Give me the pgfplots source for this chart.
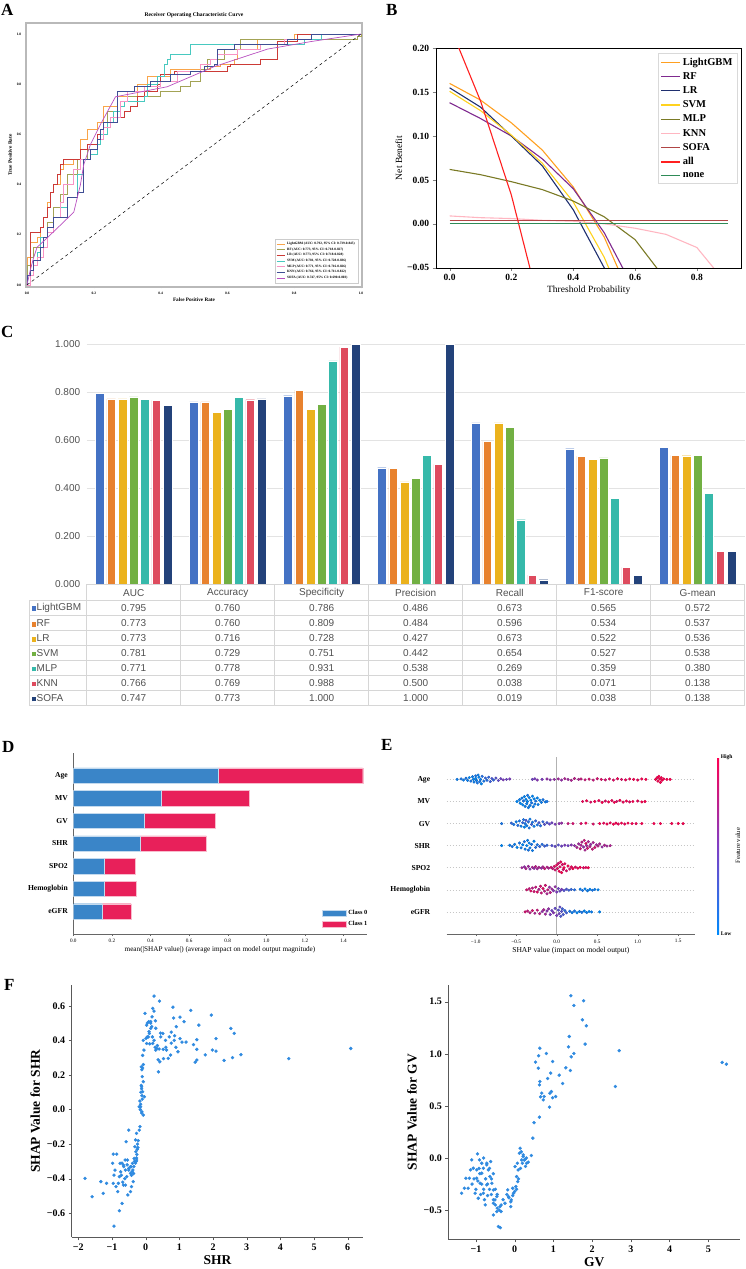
\documentclass[border=0pt]{standalone}
\usepackage{fontspec}
\setmainfont{Liberation Serif}
\newfontfamily\sansf{Liberation Sans}
\usepackage{pgfplots}
\usepackage{pgfplotstable}
\pgfplotsset{compat=1.18}
\newcommand{\fs}[1]{\fontsize{#1}{#1}\selectfont}

% panel A colours
\definecolor{aLGB}{HTML}{F9A54A}
\definecolor{aRF}{HTML}{A3A355}
\definecolor{aLR}{HTML}{CC3A36}
\definecolor{aSVM}{HTML}{48C9C0}
\definecolor{aMLP}{HTML}{F894C4}
\definecolor{aKNN}{HTML}{3F4E94}
\definecolor{aSOFA}{HTML}{B84FC0}
% panel B colours
\definecolor{bLGB}{HTML}{FFA020}
\definecolor{bRF}{HTML}{7F2A8F}
\definecolor{bLR}{HTML}{1F2F6F}
\definecolor{bSVM}{HTML}{FFD21F}
\definecolor{bMLP}{HTML}{7A7A25}
\definecolor{bKNN}{HTML}{FFB6C1}
\definecolor{bSOFA}{HTML}{B04545}
\definecolor{bALL}{HTML}{FF2020}
\definecolor{bNONE}{HTML}{2E8B57}
% panel C colours
\definecolor{cLGB}{HTML}{4472C4}
\definecolor{cRF}{HTML}{E8822E}
\definecolor{cLR}{HTML}{EBB21D}
\definecolor{cSVM}{HTML}{72B043}
\definecolor{cMLP}{HTML}{36B9AA}
\definecolor{cKNN}{HTML}{DE4B5E}
\definecolor{cSOFA}{HTML}{23427A}
\definecolor{tabtext}{HTML}{505050}
\definecolor{tabline}{HTML}{D6D6D6}
% D/E/F
\definecolor{dBlue}{HTML}{3A85C8}
\definecolor{dRed}{HTML}{E8205A}
\definecolor{fBlue}{HTML}{2F8AE0}

\pgfplotstableread{
x LGB RF LR SVM MLP KNN SOFA
0 0.795 0.773 0.773 0.781 0.771 0.766 0.747
1 0.760 0.760 0.716 0.729 0.778 0.769 0.773
2 0.786 0.809 0.728 0.751 0.931 0.988 1.000
3 0.486 0.484 0.427 0.442 0.538 0.500 1.000
4 0.673 0.596 0.673 0.654 0.269 0.038 0.019
5 0.565 0.534 0.522 0.527 0.359 0.071 0.038
6 0.572 0.537 0.536 0.538 0.380 0.138 0.138
}\perfdata

\pgfplotstableread{
y c0 c1
0 0.150 0.150
1 0.162 0.162
2 0.162 0.161
3 0.345 0.345
4 0.367 0.368
5 0.455 0.454
6 0.749 0.750
}\shapbar

\pgfplotstableread[row sep=\\]{
x y c\\
-1.23 6 0.05\\ -1.18 6.02 0.1\\ -1.15 5.97 0.05\\ -1.12 6.05 0.1\\ -1.1 5.95 0.05\\ -1.08 6.08 0.0\\ -1.06 5.92 0.1\\ -1.04 6.12 0.05\\ -1.03 6.0 0.0\\ -1.02 5.88 0.05\\ -1.0 6.16 0.1\\ -1.0 6.05 0.0\\ -0.99 5.95 0.05\\ -0.98 5.84 0.1\\ -0.97 6.2 0.05\\ -0.96 6.1 0.0\\ -0.95 5.9 0.1\\ -0.94 6.0 0.05\\ -0.93 5.8 0.0\\ -0.92 6.14 0.15\\ -0.9 5.92 0.1\\ -0.88 6.06 0.2\\ -0.86 5.96 0.15\\ -0.84 6.1 0.2\\ -0.82 5.9 0.25\\ -0.8 6.04 0.3\\ -0.78 5.97 0.2\\ -0.75 6.06 0.35\\ -0.72 5.95 0.4\\ -0.69 6.03 0.45\\ -0.66 5.98 0.5\\ -0.62 6.0 0.45\\ -0.58 6.02 0.5\\
-0.3 6 0.45\\ -0.27 6.03 0.5\\ -0.24 5.97 0.55\\ -0.18 6.0 0.5\\ -0.12 6.02 0.6\\ -0.08 5.98 0.55\\ -0.03 6.0 0.6\\ 0.02 6.02 0.65\\ 0.06 5.97 0.6\\ 0.1 6.03 0.7\\ 0.14 6 0.65\\ 0.18 5.96 0.7\\ 0.22 6.04 0.75\\ 0.27 6 0.7\\ 0.3 6.02 0.8\\ 0.35 5.98 0.8\\ 0.4 6.01 0.85\\ 0.45 5.97 0.8\\ 0.5 6.03 0.85\\ 0.55 6 0.9\\ 0.6 5.98 0.85\\ 0.65 6.02 0.9\\ 0.7 5.97 0.9\\ 0.75 6.03 0.95\\ 0.8 6 0.9\\ 0.85 5.98 0.95\\ 0.9 6.02 0.95\\ 0.95 6.0 1\\ 1.0 5.97 0.95\\ 1.05 6.02 1\\ 1.1 6 1\\
1.22 6.0 1\\ 1.24 6.08 1\\ 1.25 5.92 1\\ 1.26 6.14 1\\ 1.27 6.02 1\\ 1.28 5.86 1\\ 1.29 6.08 1\\ 1.3 5.96 1\\ 1.32 6.02 1\\ 1.36 6 1\\ 1.4 6 1\\
-0.49 5 0\\ -0.46 5.08 0.05\\ -0.45 4.92 0\\ -0.43 5.15 0.05\\ -0.42 4.85 0\\ -0.41 5.02 0.1\\ -0.4 5.22 0\\ -0.39 4.78 0.05\\ -0.38 5.1 0\\ -0.37 4.9 0.05\\ -0.36 5.28 0.1\\ -0.36 5.0 0\\ -0.35 4.72 0.05\\ -0.34 5.18 0\\ -0.33 4.82 0.05\\ -0.32 5.06 0\\ -0.31 4.94 0.1\\ -0.3 5.24 0\\ -0.29 4.76 0.05\\ -0.28 5.12 0\\ -0.27 4.88 0.05\\ -0.26 5.02 0.1\\ -0.24 5.16 0\\ -0.23 4.86 0.05\\ -0.21 5.06 0\\ -0.19 4.96 0.05\\ -0.17 5.08 0.1\\ -0.14 4.98 0.05\\ -0.12 5.0 0.1\\
0.32 5 0.95\\ 0.37 5.03 1\\ 0.42 4.97 0.9\\ 0.47 5.0 1\\ 0.52 5.04 0.95\\ 0.56 4.96 1\\ 0.6 5.02 0.9\\ 0.64 4.98 1\\ 0.68 5.04 0.95\\ 0.71 4.96 1\\ 0.74 5.0 0.9\\ 0.78 5.05 1\\ 0.82 4.97 0.95\\ 0.86 5.02 1\\ 0.9 4.98 0.9\\ 0.94 5.0 1\\ 1.0 5.02 0.95\\ 1.05 4.98 1\\ 1.09 5 1\\
-0.68 4 0.1\\ -0.56 4.02 0.2\\ -0.53 3.96 0.1\\ -0.5 4.08 0.05\\ -0.48 3.92 0.15\\ -0.46 4.12 0.1\\ -0.44 3.88 0.05\\ -0.42 4.04 0.2\\ -0.41 4.18 0.1\\ -0.4 3.84 0.0\\ -0.39 4.0 0.1\\ -0.38 4.14 0.3\\ -0.37 3.9 0.05\\ -0.35 4.08 0.15\\ -0.34 3.8 0.1\\ -0.33 4.2 0.05\\ -0.31 3.96 0.25\\ -0.3 4.06 0.1\\ -0.28 3.88 0.05\\ -0.26 4.12 0.2\\ -0.24 3.94 0.1\\ -0.22 4.04 0.3\\ -0.2 3.9 0.15\\ -0.17 4.08 0.2\\ -0.15 3.96 0.35\\ -0.12 4.04 0.3\\ -0.09 3.98 0.4\\ -0.06 4.03 0.45\\ -0.02 3.97 0.5\\ 0.03 4.0 0.55\\ 0.06 4.02 0.6\\
0.14 4 0.8\\ 0.2 4 0.85\\ 0.3 4.0 0.9\\ 0.36 4.02 0.95\\ 0.45 3.98 0.9\\ 0.53 4 1\\ 0.58 4.02 0.95\\ 0.62 3.98 1\\ 0.66 4.03 0.95\\ 0.7 3.97 1\\ 0.73 4.02 1\\ 0.76 3.98 0.95\\ 0.8 4.02 1\\ 0.84 3.98 0.95\\ 0.88 4.02 1\\ 0.93 4 1\\ 0.98 4 0.95\\ 1.05 4 1\\ 1.2 4 1\\ 1.28 4 1\\ 1.42 4 1\\ 1.5 4 1\\ 1.56 4 1\\
-0.68 3 0\\ -0.58 3.02 0.05\\ -0.55 2.96 0.1\\ -0.52 3.06 0.05\\ -0.49 2.92 0\\ -0.46 3.12 0.1\\ -0.44 2.9 0.05\\ -0.42 3.04 0\\ -0.4 3.18 0.1\\ -0.39 2.84 0.05\\ -0.37 3.0 0\\ -0.36 3.24 0.05\\ -0.35 2.8 0.1\\ -0.34 3.12 0\\ -0.33 2.9 0.05\\ -0.31 3.06 0.1\\ -0.3 2.78 0.05\\ -0.28 3.2 0.0\\ -0.26 2.92 0.15\\ -0.24 3.04 0.1\\ -0.21 2.96 0.2\\ -0.18 3.06 0.15\\ -0.15 2.98 0.25\\ -0.12 3.02 0.2\\ -0.06 3.0 0.35\\ -0.02 2.97 0.4\\ 0.02 3.03 0.35\\ 0.06 2.98 0.45\\ 0.1 3.02 0.5\\ 0.14 3.0 0.45\\ 0.18 3.03 0.55\\
0.22 3 0.6\\ 0.25 2.92 0.7\\ 0.27 3.08 0.65\\ 0.29 2.86 0.8\\ 0.3 3.02 0.7\\ 0.31 3.16 0.75\\ 0.33 2.94 0.6\\ 0.34 3.24 0.8\\ 0.35 2.8 0.7\\ 0.36 3.1 0.9\\ 0.37 3.0 0.65\\ 0.38 2.88 0.85\\ 0.39 3.18 0.7\\ 0.41 2.96 0.75\\ 0.42 3.06 0.6\\ 0.44 2.84 0.8\\ 0.45 3.14 0.7\\ 0.47 2.92 0.85\\ 0.49 3.04 0.65\\ 0.51 2.98 0.75\\ 0.53 3.08 0.7\\ 0.56 2.94 0.6\\ 0.59 3.02 0.7\\ 0.62 2.98 0.65\\ 0.66 3.0 0.7\\
-0.43 2 0.65\\ -0.4 2.04 0.6\\ -0.38 1.96 0.7\\ -0.35 2.06 0.65\\ -0.33 1.94 0.55\\ -0.3 2.02 0.7\\ -0.28 1.97 0.6\\ -0.26 2.05 0.75\\ -0.24 1.95 0.65\\ -0.22 2.02 0.7\\ -0.19 1.98 0.6\\ -0.17 2.04 0.7\\ -0.15 1.96 0.8\\ -0.12 2.03 0.75\\ -0.1 1.98 0.7\\ -0.07 2.02 0.85\\ -0.05 1.96 0.8\\
-0.03 2.06 0.9\\ -0.02 1.9 0.85\\ 0.0 2.12 0.95\\ 0.01 1.96 0.9\\ 0.02 2.2 0.85\\ 0.03 1.84 1\\ 0.04 2.04 0.9\\ 0.05 2.26 0.95\\ 0.06 1.78 1\\ 0.07 2.14 0.9\\ 0.08 1.92 0.85\\ 0.09 2.0 1\\ 0.1 2.18 0.95\\ 0.12 1.86 0.9\\ 0.14 2.08 1\\ 0.16 1.94 0.85\\ 0.18 2.04 0.95\\ 0.2 1.96 1\\ 0.23 2.03 0.9\\ 0.26 1.98 0.95\\ 0.29 2.02 1\\ 0.33 2.0 0.9\\ 0.36 2.01 0.95\\ 0.39 2 1\\
-0.37 1 0.85\\ -0.34 1.05 0.8\\ -0.32 0.95 0.9\\ -0.3 1.08 0.75\\ -0.28 0.92 0.85\\ -0.26 1.12 0.8\\ -0.24 0.9 0.9\\ -0.22 1.02 0.7\\ -0.2 1.16 0.85\\ -0.19 0.86 0.8\\ -0.17 1.06 0.9\\ -0.15 0.94 0.75\\ -0.14 1.2 0.85\\ -0.12 0.82 0.7\\ -0.11 1.0 0.8\\ -0.09 1.12 0.6\\ -0.08 0.88 0.75\\ -0.06 1.04 0.65\\ -0.04 0.96 0.55\\ -0.02 1.14 0.6\\ 0.0 0.9 0.5\\ 0.02 1.06 0.45\\ 0.04 0.94 0.4\\ 0.06 1.02 0.5\\ 0.09 0.97 0.35\\ 0.12 1.03 0.3\\ 0.15 0.98 0.25\\ 0.18 1.02 0.2\\ 0.22 1.0 0.15\\ 0.29 1.03 0.05\\ 0.32 0.97 0.1\\ 0.35 1.04 0.0\\ 0.38 0.96 0.05\\ 0.41 1.02 0.0\\ 0.44 0.98 0.1\\ 0.47 1.02 0.05\\ 0.51 1 0\\
-0.39 0 0.85\\ -0.36 0.04 0.8\\ -0.33 -0.04 0.75\\ -0.3 0.06 0.85\\ -0.27 -0.06 0.7\\ -0.24 0.08 0.8\\ -0.21 -0.08 0.75\\ -0.18 0.02 0.6\\ -0.16 0.1 0.7\\ -0.14 -0.1 0.65\\ -0.12 0.04 0.55\\ -0.1 0.14 0.6\\ -0.08 -0.12 0.5\\ -0.06 0.06 0.45\\ -0.04 -0.04 0.55\\ -0.02 0.16 0.4\\ 0.0 -0.16 0.5\\ 0.02 0.08 0.35\\ 0.03 -0.08 0.45\\ 0.04 0.22 0.4\\ 0.05 -0.2 0.3\\ 0.06 0.02 0.35\\ 0.07 0.14 0.25\\ 0.08 -0.12 0.3\\ 0.1 0.06 0.2\\ 0.12 -0.04 0.25\\ 0.16 0.03 0.1\\ 0.19 -0.03 0.05\\ 0.22 0.04 0.1\\ 0.25 -0.04 0.0\\ 0.28 0.02 0.05\\ 0.31 -0.02 0.1\\ 0.34 0.04 0.0\\ 0.37 -0.03 0.05\\ 0.4 0.02 0.0\\ 0.43 0 0.05\\ 0.53 0 0\\
}\beeswarm

\pgfplotstableread[row sep=\\]{
x y\\
6.09 0.353\\ 4.25 0.294\\ 2.83 0.317\\ 2.58 0.30\\ 2.33 0.284\\ 2.53 0.469\\ 2.63 0.44\\ 2.09 0.41\\ 2.09 0.338\\ 1.98 0.344\\ 1.95 0.546\\ 1.77 0.316\\ 1.58 0.488\\ 1.52 0.404\\ 1.52 0.348\\ 1.52 0.286\\ 1.47 0.274\\ 1.42 0.375\\ 1.34 0.573\\ 1.14 0.508\\ 1.02 0.534\\ 1.02 0.41\\ 1.08 0.39\\ 0.96 0.334\\ 0.91 0.479\\ 0.86 0.427\\ 0.83 0.529\\ 0.81 0.592\\ 0.76 0.384\\ 0.76 0.448\\ 0.74 0.315\\ 0.67 0.296\\ 0.62 0.344\\ 0.59 0.40\\ 0.53 0.294\\ 0.52 0.348\\ 0.51 0.44\\ 0.44 0.442\\ 0.42 0.276\\ 0.38 0.218\\ 0.37 0.288\\ 0.33 0.353\\ 0.30 0.344\\ 0.25 0.40\\ 0.29 0.513\\ 0.25 0.569\\ 0.41 0.627\\ 0.25 0.656\\ 0.21 0.585\\ 0.19 0.536\\ 0.15 0.508\\ 0.18 0.479\\ 0.11 0.44\\ 0.08 0.42\\ 0.03 0.382\\ 0.01 0.411\\ -0.02 0.556\\ 0.03 0.488\\ 0.09 0.508\\ 0.15 0.469\\ 0.21 0.382\\ -0.07 0.40\\ -0.05 0.344\\ -0.09 0.313\\ -0.13 0.247\\ -0.10 0.19\\ -0.07 0.161\\ -0.12 0.132\\ -0.09 0.103\\ -0.04 0.074\\ -0.17 0.049\\ -0.15 0.016\\ -0.11 -0.013\\ -0.07 -0.032\\ -0.19 0.016\\ -0.17 -0.099\\ -0.19 -0.119\\ -0.27 -0.138\\ -0.30 -0.176\\ -0.32 -0.215\\ -0.29 -0.244\\ -0.34 -0.283\\ -0.27 -0.292\\ -0.39 -0.311\\ -0.43 -0.331\\ -0.45 -0.369\\ -0.50 -0.35\\ -0.54 -0.292\\ -0.50 -0.119\\ -0.58 -0.186\\ -0.61 -0.292\\ -0.66 -0.321\\ -0.74 -0.36\\ -0.76 -0.311\\ -0.78 -0.388\\ -0.81 -0.427\\ -0.88 -0.446\\ -0.91 -0.35\\ -0.94 -0.379\\ -0.96 -0.258\\ -0.86 -0.258\\ -0.98 -0.311\\ -0.96 -0.427\\ -0.83 -0.475\\ -0.78 -0.585\\ -0.70 -0.543\\ -0.60 -0.437\\ -0.53 -0.494\\ -0.45 -0.475\\ -0.42 -0.446\\ -0.37 -0.417\\ -0.56 -0.388\\ -0.66 -0.437\\ -0.94 -0.674\\ -1.16 -0.427\\ -1.33 -0.417\\ -1.26 -0.485\\ -1.59 -0.504\\ -1.80 -0.398\\
-0.22 -0.18\\ -0.24 -0.2\\ -0.25 -0.23\\ -0.26 -0.26\\ -0.27 -0.28\\ -0.23 -0.22\\ -0.28 -0.3\\ -0.3 -0.31\\ -0.33 -0.3\\ -0.35 -0.33\\ -0.38 -0.35\\ -0.4 -0.36\\ -0.42 -0.38\\ -0.36 -0.37\\ -0.45 -0.33\\ -0.5 -0.34\\ -0.55 -0.32\\ -0.6 -0.35\\ -0.65 -0.33\\ -0.7 -0.31\\ -0.72 -0.38\\ -0.68 -0.42\\ -0.62 -0.4\\ -0.14 0.1\\ -0.12 0.12\\ -0.13 0.14\\ -0.11 0.08\\ -0.15 0.03\\ -0.16 0.0\\ -0.12 -0.02\\ -0.1 0.06\\ -0.09 0.24\\ -0.11 0.23\\ -0.07 0.26\\ 0.05 0.42\\ 0.1 0.45\\ 0.12 0.38\\ 0.2 0.42\\ 0.28 0.36\\ 0.35 0.37\\ 0.4 0.35\\ 0.45 0.42\\ 0.6 0.36\\ 0.7 0.42\\ 0.85 0.4\\ 0.9 0.36\\ 1.2 0.39\\ 0.3 0.47\\ 0.15 0.5\\ 0.05 0.5\\
}\shrdata

\pgfplotstableread[row sep=\\]{
x y\\
5.36 0.917\\ 5.47 0.90\\ 2.70 1.03\\ 2.60 0.686\\ 1.45 1.557\\ 1.78 1.509\\ 1.53 1.464\\ 1.75 1.326\\ 1.85 1.269\\ 1.41 1.166\\ 1.82 1.093\\ 1.39 1.067\\ 1.53 1.003\\ 1.46 0.971\\ 1.44 0.84\\ 1.32 0.866\\ 1.15 0.795\\ 1.24 0.715\\ 0.98 0.926\\ 0.82 1.003\\ 0.65 1.054\\ 0.62 0.981\\ 0.54 0.92\\ 0.61 0.862\\ 0.85 0.763\\ 0.93 0.815\\ 0.65 0.734\\ 0.64 0.702\\ 0.70 0.622\\ 0.76 0.59\\ 0.67 0.587\\ 0.74 0.558\\ 0.91 0.622\\ 0.95 0.638\\ 1.06 0.59\\ 0.98 0.578\\ 0.90 0.488\\ 0.64 0.392\\ 0.50 0.339\\ 0.47 0.191\\ 0.43 0.024\\ 0.14 0.094\\ 0.27 -0.011\\ 0.31 -0.05\\ 0.22 0.014\\ 0.18 -0.018\\ 0.12 0.046\\ 0.07 -0.05\\ 0.01 -0.082\\ 0.09 -0.114\\ 0.05 -0.178\\ 0.08 -0.226\\ 0.03 -0.274\\ -0.05 -0.29\\ -0.03 -0.338\\ -0.09 -0.402\\ -0.16 -0.37\\ -0.25 -0.434\\ -0.18 -0.306\\ -0.10 -0.466\\ -0.38 -0.466\\ -0.46 -0.514\\ -0.55 -0.546\\ -0.42 -0.658\\ -0.37 -0.668\\ -0.35 -0.514\\ -0.51 -0.402\\ -0.55 -0.306\\ -0.59 -0.242\\ -0.64 -0.178\\ -0.68 -0.114\\ -0.62 -0.034\\ -0.72 -0.066\\ -0.81 -0.098\\ -0.91 -0.018\\ -0.96 0.04\\ -1.11 -0.018\\ -1.14 -0.114\\ -1.17 -0.194\\ -1.20 -0.29\\ -1.26 -0.194\\ -1.30 -0.29\\ -1.37 -0.338\\ -0.98 -0.194\\ -0.89 -0.242\\ -1.02 -0.338\\ -0.94 -0.386\\ -0.81 -0.338\\ -0.76 -0.45\\ -0.72 -0.258\\ -0.85 -0.146\\ -0.98 -0.114\\ -1.07 -0.098\\ -0.55 -0.434\\ -0.46 -0.37\\
-0.75 -0.2\\ -0.7 -0.25\\ -0.8 -0.3\\ -0.85 -0.25\\ -0.65 -0.3\\ -0.6 -0.35\\ -0.55 -0.4\\ -0.5 -0.45\\ -0.45 -0.48\\ -0.4 -0.5\\ -0.35 -0.45\\ -0.3 -0.4\\ -0.2 -0.35\\ -0.15 -0.38\\ -0.1 -0.42\\ -0.05 -0.36\\ 0 -0.32\\ 0.05 -0.3\\ 0.1 -0.2\\ 0.15 -0.1\\ 0.2 -0.05\\ 0.25 -0.02\\ 0.3 0.0\\ 0.35 -0.04\\ 0.28 -0.08\\ 0.22 0.03\\ 0.17 0.06\\ -0.92 -0.1\\ -0.95 -0.22\\ -1.0 -0.3\\ -0.88 -0.35\\ -0.78 -0.4\\ -0.7 -0.36\\ -0.65 -0.1\\ -0.72 -0.05\\ -0.8 0.0\\ -0.85 -0.05\\ -0.9 -0.15\\ -1.05 -0.2\\ -1.1 -0.25\\ -0.6 -0.2\\ -0.55 -0.15\\ -0.5 -0.3\\ -0.45 -0.35\\
}\gvdata

\begin{document}
\begin{tikzpicture}
\path[use as bounding box] (0pt,0pt) rectangle (746pt,-1269pt);

% panel letters
\node[anchor=north west, inner sep=0pt, font=\bfseries\fs{17}] at (1pt,-4pt) {A};
\node[anchor=north west, inner sep=0pt, font=\bfseries\fs{17}] at (386pt,-4pt) {B};
\node[anchor=north west, inner sep=0pt, font=\bfseries\fs{17}] at (1pt,-326pt) {C};
\node[anchor=north west, inner sep=0pt, font=\bfseries\fs{17}] at (2pt,-741pt) {D};
\node[anchor=north west, inner sep=0pt, font=\bfseries\fs{17}] at (381pt,-739pt) {E};
\node[anchor=north west, inner sep=0pt, font=\bfseries\fs{17}] at (4pt,-979pt) {F};

%%%%%%%%%%%%%%%%%% A: ROC
\begin{axis}[at={(26pt,-23pt)}, anchor=north west, scale only axis,
  width=336pt, height=264pt,
  xmin=-0.003, xmax=1.003, ymin=-0.008, ymax=1.044,
  axis line style={draw=gray!55, line width=1.1pt},
  xtick={0,0.2,0.4,0.6,0.8,1}, ytick={0,0.2,0.4,0.6,0.8,1},
  xticklabels={0.0,0.2,0.4,0.6,0.8,1.0}, yticklabels={0.0,0.2,0.4,0.6,0.8,1.0},
  tick label style={font=\bfseries\fs{3.6}}, major tick length=1.2pt,
  tick style={black}, tick align=outside, tick pos=left,
  title={Receiver Operating Characteristic Curve},
  title style={font=\bfseries\fs{5.6}, yshift=-4.5pt},
  xlabel={False Positive Rate}, ylabel={True Positive Rate},
  xlabel style={font=\bfseries\fs{5.2}, yshift=3pt},
  ylabel style={font=\bfseries\fs{5.2}, yshift=-2pt},
  legend style={at={(0.988,0.015)}, anchor=south east, font=\bfseries\fs{3.4},
    draw=gray!40, row sep=-2.2pt, inner sep=1pt},
  legend cell align=left,
  legend image code/.code={\draw[#1] (0pt,0pt) -- (8pt,0pt);},
  legend image post style={line width=0.8pt},
  every axis plot/.append style={line width=0.7pt},
]
\addplot[color=aLGB, const plot] coordinates {(0,0)(0,0.11)(0.01,0.17)(0.03,0.19)(0.04,0.23)(0.05,0.27)(0.06,0.33)(0.07,0.37)(0.08,0.40)(0.10,0.46)(0.11,0.48)(0.14,0.50)(0.16,0.58)(0.18,0.62)(0.21,0.65)(0.23,0.71)(0.27,0.75)(0.33,0.80)(0.36,0.83)(0.43,0.86)(0.55,0.87)(0.58,0.88)(0.62,0.90)(0.63,0.94)(0.69,0.98)(0.80,1.0)(1,1)};
\addlegendentry{LightGBM (AUC: 0.792, 95\% CI: 0.739-0.845)}
\addplot[color=aRF, const plot] coordinates {(0,0)(0,0.08)(0.01,0.11)(0.02,0.15)(0.04,0.19)(0.06,0.25)(0.08,0.31)(0.10,0.36)(0.12,0.44)(0.15,0.50)(0.18,0.54)(0.21,0.60)(0.23,0.65)(0.24,0.69)(0.28,0.73)(0.30,0.75)(0.40,0.77)(0.46,0.79)(0.49,0.81)(0.52,0.86)(0.54,0.90)(0.59,0.94)(0.64,0.98)(0.99,0.99)(1,1)};
\addlegendentry{RF (AUC: 0.773, 95\% CI: 0.718-0.827)}
\addplot[color=aLR, const plot] coordinates {(0,0)(0,0.04)(0.01,0.21)(0.04,0.23)(0.05,0.27)(0.06,0.31)(0.07,0.37)(0.08,0.40)(0.09,0.44)(0.10,0.48)(0.11,0.50)(0.15,0.50)(0.16,0.54)(0.18,0.56)(0.21,0.60)(0.23,0.63)(0.25,0.67)(0.29,0.69)(0.31,0.71)(0.33,0.75)(0.35,0.77)(0.39,0.80)(0.40,0.84)(0.44,0.85)(0.60,0.87)(0.61,0.88)(0.70,0.90)(0.75,0.92)(0.75,0.97)(0.81,1.0)(1,1)};
\addlegendentry{LR (AUC: 0.773, 95\% CI: 0.718-0.828)}
\addplot[color=aSVM, const plot] coordinates {(0,0)(0.01,0.04)(0.02,0.08)(0.03,0.13)(0.04,0.19)(0.06,0.21)(0.08,0.27)(0.10,0.31)(0.12,0.35)(0.15,0.44)(0.17,0.50)(0.19,0.52)(0.21,0.56)(0.22,0.60)(0.24,0.65)(0.26,0.69)(0.28,0.71)(0.29,0.73)(0.35,0.75)(0.36,0.80)(0.39,0.83)(0.41,0.88)(0.42,0.90)(0.43,0.92)(0.49,0.96)(0.80,0.96)(0.83,0.98)(0.88,1.0)(1,1)};
\addlegendentry{SVM (AUC: 0.781, 95\% CI: 0.728-0.836)}
\addplot[color=aMLP, const plot] coordinates {(0,0)(0.01,0.04)(0.02,0.08)(0.03,0.11)(0.05,0.15)(0.06,0.21)(0.08,0.27)(0.10,0.33)(0.11,0.40)(0.14,0.46)(0.16,0.50)(0.19,0.54)(0.21,0.58)(0.23,0.63)(0.25,0.67)(0.28,0.73)(0.30,0.77)(0.35,0.79)(0.40,0.81)(0.45,0.85)(0.52,0.88)(0.55,0.90)(0.57,0.92)(0.63,0.94)(0.70,0.96)(0.77,0.98)(0.85,1.0)(1,1)};
\addlegendentry{MLP (AUC: 0.771, 95\% CI: 0.716-0.826)}
\addplot[color=aKNN, const plot] coordinates {(0,0)(0,0.04)(0.01,0.06)(0.02,0.10)(0.04,0.15)(0.05,0.19)(0.06,0.23)(0.08,0.27)(0.12,0.27)(0.12,0.35)(0.15,0.37)(0.17,0.50)(0.19,0.54)(0.21,0.58)(0.22,0.62)(0.23,0.65)(0.27,0.77)(0.30,0.77)(0.32,0.79)(0.37,0.81)(0.43,0.84)(0.49,0.85)(0.53,0.87)(0.56,0.88)(0.57,0.90)(0.57,0.94)(0.62,0.96)(0.78,0.98)(0.85,1.0)(1,1)};
\addlegendentry{KNN (AUC: 0.766, 95\% CI: 0.711-0.822)}
\addplot[color=aSOFA] coordinates {(0,0)(0.01,0.06)(0.02,0.11)(0.03,0.15)(0.07,0.2)(0.14,0.29)(0.16,0.4)(0.17,0.48)(0.19,0.56)(0.22,0.64)(0.265,0.75)(0.42,0.79)(0.56,0.87)(0.72,0.94)(0.85,0.97)(1,1)};
\addlegendentry{SOFA (AUC: 0.747, 95\% CI: 0.690-0.803)}
\addplot[black, dashed, line width=0.5pt, forget plot] coordinates {(0,0)(1,1)};
\end{axis}

%%%%%%%%%%%%%%%%%% B: DCA
\begin{axis}[at={(435.7pt,-48.3pt)}, anchor=north west, scale only axis,
  width=306pt, height=219.4pt,
  xmin=-0.045, xmax=0.945, ymin=-0.05, ymax=0.2,
  xtick={0,0.2,0.4,0.6,0.8}, xticklabels={0.0,0.2,0.4,0.6,0.8},
  ytick={-0.05,0,0.05,0.1,0.15,0.2}, yticklabels={−0.05,0.00,0.05,0.10,0.15,0.20},
  tick label style={font=\bfseries\fs{9.5}}, tick align=outside, tick pos=left, major tick length=3pt,
  xlabel={Threshold Probability}, ylabel={Net Benefit},
  xlabel style={font=\fs{9.5}, yshift=2pt}, ylabel style={font=\fs{9.5}, yshift=-2pt},
  legend style={at={(0.985,0.978)}, anchor=north east, font=\bfseries\fs{10.5},
    draw=gray!30, row sep=1.8pt, inner sep=2.5pt},
  legend cell align=left,
  legend image code/.code={\draw[#1] (0pt,0pt) -- (19pt,0pt);},
  legend image post style={line width=1.3pt},
  every axis plot/.append style={line width=1.1pt},
]
\addplot[color=bLGB] coordinates {(0,0.160)(0.1,0.141)(0.2,0.115)(0.3,0.084)(0.4,0.042)(0.5,-0.015)(0.6,-0.095)};
\addlegendentry{LightGBM}
\addplot[color=bRF] coordinates {(0,0.138)(0.1,0.120)(0.2,0.100)(0.3,0.074)(0.4,0.040)(0.5,-0.010)(0.6,-0.077)};
\addlegendentry{RF}
\addplot[color=bLR] coordinates {(0,0.155)(0.1,0.133)(0.2,0.100)(0.3,0.066)(0.4,0.016)(0.5,-0.050)(0.6,-0.130)};
\addlegendentry{LR}
\addplot[color=bSVM] coordinates {(0,0.151)(0.1,0.129)(0.2,0.101)(0.3,0.069)(0.4,0.025)(0.5,-0.038)(0.6,-0.120)};
\addlegendentry{SVM}
\addplot[color=bMLP] coordinates {(0,0.062)(0.1,0.056)(0.2,0.048)(0.3,0.039)(0.4,0.026)(0.5,0.008)(0.6,-0.018)(0.7,-0.064)};
\addlegendentry{MLP}
\addplot[color=bKNN] coordinates {(0,0.009)(0.1,0.007)(0.2,0.006)(0.3,0.004)(0.4,0.003)(0.5,0.000)(0.6,-0.005)(0.7,-0.012)(0.8,-0.027)(0.9,-0.070)};
\addlegendentry{KNN}
\addplot[color=bSOFA] coordinates {(0,0.004)(0.1,0.004)(0.2,0.004)(0.3,0.004)(0.4,0.004)(0.5,0.004)(0.6,0.004)(0.7,0.004)(0.8,0.004)(0.9,0.004)};
\addlegendentry{SOFA}
\addplot[color=bALL] coordinates {(0,0.226)(0.1,0.140)(0.2,0.0325)(0.3,-0.106)};
\addlegendentry{all}
\addplot[color=bNONE] coordinates {(0,0)(0.1,0)(0.2,0)(0.3,0)(0.4,0)(0.5,0)(0.6,0)(0.7,0)(0.8,0)(0.9,0)};
\addlegendentry{none}
\end{axis}

%%%%%%%%%%%%%%%%%% C: bars
\begin{axis}[at={(86.7pt,-344.3pt)}, anchor=north west, scale only axis,
  width=658pt, height=240pt,
  xmin=-0.5, xmax=6.5, ymin=0, ymax=1,
  ybar=2.57pt, bar width=8.7pt,
  axis line style={draw=none}, tick style={draw=none},
  xtick=\empty,
  ytick={0,0.2,0.4,0.6,0.8,1}, yticklabels={0.000,0.200,0.400,0.600,0.800,1.000},
  yticklabel style={font=\sansf\fs{10}, text=tabtext, xshift=-3pt},
  ymajorgrids, grid style={draw=gray!22, line width=0.6pt},
]
\addplot[fill=cLGB, draw=white, line width=0.3pt] table[x=x, y=LGB] {\perfdata};
\addplot[fill=cRF, draw=white, line width=0.3pt] table[x=x, y=RF] {\perfdata};
\addplot[fill=cLR, draw=white, line width=0.3pt] table[x=x, y=LR] {\perfdata};
\addplot[fill=cSVM, draw=white, line width=0.3pt] table[x=x, y=SVM] {\perfdata};
\addplot[fill=cMLP, draw=white, line width=0.3pt] table[x=x, y=MLP] {\perfdata};
\addplot[fill=cKNN, draw=white, line width=0.3pt] table[x=x, y=KNN] {\perfdata};
\addplot[fill=cSOFA, draw=white, line width=0.3pt] table[x=x, y=SOFA] {\perfdata};
\end{axis}

% table under panel C
\begin{scope}[tabline, line width=0.6pt]
\draw (86.7pt,-584.3pt) -- (744.7pt,-584.3pt);
\foreach \k in {0,...,7} \draw (29.3pt,{-600.7pt-\k*14.95pt}) -- (744.7pt,{-600.7pt-\k*14.95pt});
\draw (29.3pt,-600.7pt) -- (29.3pt,-705.35pt);
\foreach \k in {0,...,7} \draw ({86.7pt+\k*94pt},-584.3pt) -- ({86.7pt+\k*94pt},-705.35pt);
\end{scope}
\foreach \h [count=\k from 0] in {AUC,Accuracy,Specificity,Precision,Recall,F1-score,G-mean}
  \node[font=\sansf\fs{10}, text=tabtext, inner sep=0pt] at ({86.7pt+(\k+0.5)*94pt},-592.6pt) {\h};
\foreach \nm/\cl/\va/\vb/\vc/\vd/\ve/\vf/\vg [count=\i] in {
  LightGBM/cLGB/0.795/0.760/0.786/0.486/0.673/0.565/0.572,
  RF/cRF/0.773/0.760/0.809/0.484/0.596/0.534/0.537,
  LR/cLR/0.773/0.716/0.728/0.427/0.673/0.522/0.536,
  SVM/cSVM/0.781/0.729/0.751/0.442/0.654/0.527/0.538,
  MLP/cMLP/0.771/0.778/0.931/0.538/0.269/0.359/0.380,
  KNN/cKNN/0.766/0.769/0.988/0.500/0.038/0.071/0.138,
  SOFA/cSOFA/0.747/0.773/1.000/1.000/0.019/0.038/0.138} {
  \pgfmathsetmacro{\ry}{-600.7-(\i-0.5)*14.95}
  \node[anchor=west, font=\sansf\fs{10}, text=tabtext, inner sep=0pt] at (31.5pt,\ry pt) {\textcolor{\cl}{\rule{4.4pt}{4.4pt}}\hspace{0.6pt}\nm};
  \foreach \v [count=\k from 0] in {\va,\vb,\vc,\vd,\ve,\vf,\vg}
    \node[font=\sansf\fs{10}, text=tabtext, inner sep=0pt] at ({86.7pt+(\k+0.5)*94pt},\ry pt) {\v};
}

%%%%%%%%%%%%%%%%%% D: mean |SHAP|
\begin{axis}[at={(73.3pt,-753pt)}, anchor=north west, scale only axis,
  width=293.4pt, height=181pt,
  xmin=0, xmax=1.52, ymin=-1, ymax=7,
  xbar stacked, bar width=15.3pt,
  axis x line*=bottom, axis y line*=left,
  axis line style={line width=0.5pt, draw=gray!80!black},
  xtick={0,0.2,0.4,0.6,0.8,1.0,1.2,1.4}, xticklabels={0.0,0.2,0.4,0.6,0.8,1.0,1.2,1.4},
  xticklabel style={font=\fs{5.2}}, x tick style={draw=gray!80!black},
  tick align=outside, major tick length=2pt,
  ytick={0,1,2,3,4,5,6}, yticklabels={eGFR,Hemoglobin,SPO2,SHR,GV,MV,Age},
  yticklabel style={font=\bfseries\fs{7.6}}, y tick style={draw=none},
  xlabel={mean(|SHAP value|) (average impact on model output magnitude)},
  xlabel style={font=\fs{7.2}, yshift=3pt},
  legend style={at={(1.02,0.015)}, anchor=south east, draw=none, fill=none,
    font=\bfseries\fs{6.3}, row sep=1pt},
  legend cell align=left,
  legend image code/.code={\fill[#1] (0pt,-2.9pt) rectangle (24pt,2.9pt);},
]
\addplot[fill=dBlue, draw=white!70!dBlue, line width=0.3pt] table[x=c0, y=y] {\shapbar};
\addlegendentry{Class 0}
\addplot[fill=dRed, draw=white!70!dRed, line width=0.3pt] table[x=c1, y=y] {\shapbar};
\addlegendentry{Class 1}
\end{axis}

%%%%%%%%%%%%%%%%%% E: beeswarm
\begin{axis}[at={(446.7pt,-757.3pt)}, anchor=north west, scale only axis,
  width=248.3pt, height=176.7pt,
  xmin=-1.358, xmax=1.707, ymin=-1, ymax=7,
  axis x line*=bottom, axis y line*=left, y axis line style={draw=none},
  x axis line style={line width=0.5pt, draw=gray!80!black},
  xtick={-1,-0.5,0,0.5,1,1.5}, xticklabels={−1.0,−0.5,0.0,0.5,1.0,1.5},
  xticklabel style={font=\fs{5.2}}, x tick style={draw=gray!80!black},
  tick align=outside, major tick length=2pt,
  ytick={0,1,2,3,4,5,6}, yticklabels={eGFR,Hemoglobin,SPO2,SHR,GV,MV,Age},
  yticklabel style={font=\bfseries\fs{7.6}, xshift=-11pt}, y tick style={draw=none},
  xlabel={SHAP value (impact on model output)},
  xlabel style={font=\fs{7.6}, yshift=3pt},
  colormap={shap}{rgb255(0cm)=(0,138,251); rgb255(1cm)=(128,62,196); rgb255(2cm)=(255,0,82)},
  point meta min=0, point meta max=1,
  colorbar,
  colorbar style={width=2.2pt, at={(parent axis.north east)}, anchor=north west,
    xshift=13.5pt, ytick={0,1}, yticklabels={Low,High},
    yticklabel style={font=\bfseries\fs{5.6}, xshift=-2pt},
    major tick length=0pt, axis line style={draw=none},
    ylabel={Feature value}, ylabel style={font=\fs{6.6}, yshift=4pt}},
]
\pgfplotsinvokeforeach{0,...,6}{
  \addplot[gray!45, dash pattern=on 0.8pt off 2.2pt, line width=0.5pt, forget plot] coordinates {(-1.358,#1)(1.707,#1)};
}
\addplot[gray!60, line width=0.8pt, forget plot] coordinates {(0,-1)(0,7)};
\addplot[scatter, only marks, mark=*, mark size=1.3pt, scatter src=explicit] table[x=x, y=y, meta=c] {\beeswarm};
\end{axis}

%%%%%%%%%%%%%%%%%% F left: SHR dependence
\begin{axis}[at={(71.7pt,-985pt)}, anchor=north west, scale only axis,
  width=291.6pt, height=252.3pt,
  xmin=-2.196, xmax=6.463, ymin=-0.739, ymax=0.72,
  axis x line*=bottom, axis y line*=left,
  axis line style={line width=0.6pt, draw=gray!70!black},
  tick align=outside, major tick length=3pt, tick style={draw=gray!70!black},
  xtick={-2,-1,0,1,2,3,4,5,6}, xticklabels={−2,−1,0,1,2,3,4,5,6},
  ytick={-0.6,-0.4,-0.2,0,0.2,0.4,0.6}, yticklabels={−0.6,−0.4,−0.2,0.0,0.2,0.4,0.6},
  tick label style={font=\bfseries\fs{10}},
  xlabel={SHR}, ylabel={SHAP Value for SHR},
  xlabel style={font=\bfseries\fs{13.5}, yshift=2pt},
  ylabel style={font=\bfseries\fs{13.5}},
]
\addplot[only marks, mark=*, mark size=1.5pt, fBlue] table[x=x, y=y] {\shrdata};
\end{axis}

%%%%%%%%%%%%%%%%%% F right: GV dependence
\begin{axis}[at={(448.3pt,-985pt)}, anchor=north west, scale only axis,
  width=291.7pt, height=254.3pt,
  xmin=-1.714, xmax=5.82, ymin=-0.78, ymax=1.66,
  axis x line*=bottom, axis y line*=left,
  axis line style={line width=0.6pt, draw=gray!70!black},
  tick align=outside, major tick length=3pt, tick style={draw=gray!70!black},
  xtick={-1,0,1,2,3,4,5}, xticklabels={−1,0,1,2,3,4,5},
  ytick={-0.5,0,0.5,1,1.5}, yticklabels={−0.5,0.0,0.5,1.0,1.5},
  tick label style={font=\bfseries\fs{10}},
  xlabel={GV}, ylabel={SHAP Value for GV},
  xlabel style={font=\bfseries\fs{13.5}, yshift=2pt},
  ylabel style={font=\bfseries\fs{13.5}},
]
\addplot[only marks, mark=*, mark size=1.5pt, fBlue] table[x=x, y=y] {\gvdata};
\end{axis}
\end{tikzpicture}
\end{document}
